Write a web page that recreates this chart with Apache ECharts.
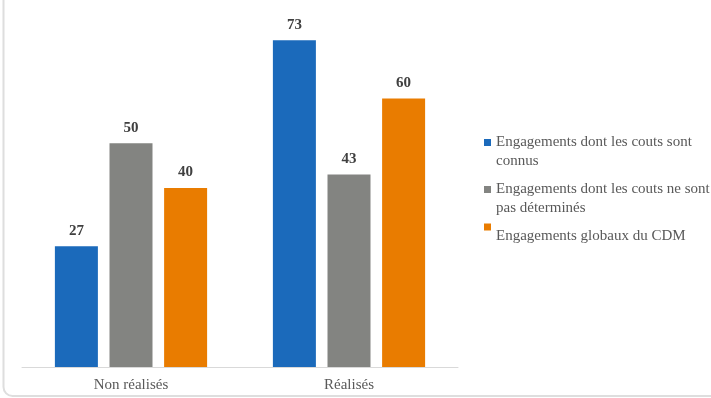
<!DOCTYPE html>
<html>
<head>
<meta charset="utf-8">
<script src="https://cdn.jsdelivr.net/npm/echarts@6/dist/echarts.min.js"></script>
<style>
  html, body { margin: 0; padding: 0; background: #fff; }
  #chart { width: 711px; height: 398px; }
</style>
</head>
<body>
<div id="chart"></div>
<script>
// données
var categories = ['Non réalisés', 'Réalisés'];
var seriesNames = [
	'Engagements dont les couts sont connus',
	'Engagements dont les couts ne sont pas déterminés',
	'Engagements globaux du CDM'
];
var connus = [27, 73];
var nonDetermines = [50, 43];
var globaux = [40, 60];
var colors = ['#1b6abb', '#838481', '#e97c00'];

var chart = echarts.init(document.getElementById('chart'));

function barSerie(name, values, color) {
	return {
		name: name,
		type: 'bar',
		data: values,
		barWidth: 43,
		barGap: '27%',
		itemStyle: { color: color },
		label: {
			show: true,
			position: 'top',
			distance: 8,
			color: '#404040',
			fontFamily: 'Liberation Serif',
			fontWeight: 'bold',
			fontSize: 15
		}
	};
}

chart.setOption({
	animation: false,
	backgroundColor: '#fff',
	textStyle: { fontFamily: 'Liberation Serif' },
	graphic: [{
		type: 'rect',
		shape: { x: 3.5, y: -20, width: 760, height: 416, r: 9 },
		style: { fill: 'none', stroke: '#dedede', lineWidth: 2 },
		silent: true
	}],
	grid: { left: 22, right: 253, top: 9, bottom: 31 },
	legend: {
		orient: 'vertical',
		left: 484,
		top: 114,
		padding: 0,
		icon: 'rect',
		itemWidth: 7,
		itemHeight: 7,
		itemGap: -10,
		// ligne vide en tête pour garder le carré sur la première ligne
		formatter: function (name) {
			return name === seriesNames[2] ? '\n' + name + '\n' : '\n' + name;
		},
		textStyle: {
			color: '#595959',
			fontFamily: 'Liberation Serif',
			fontSize: 15,
			lineHeight: 19,
			width: 222,
			overflow: 'break'
		},
		data: seriesNames
	},
	xAxis: {
		type: 'category',
		data: categories,
		axisTick: { show: false },
		axisLine: { lineStyle: { color: '#d9d9d9', width: 1 } },
		axisLabel: {
			color: '#595959',
			fontFamily: 'Liberation Serif',
			fontSize: 15,
			margin: 11
		}
	},
	yAxis: {
		type: 'value',
		min: 0,
		max: 80,
		show: false,
		splitLine: { show: false }
	},
	series: [
		barSerie(seriesNames[0], connus, colors[0]),
		barSerie(seriesNames[1], nonDetermines, colors[1]),
		barSerie(seriesNames[2], globaux, colors[2])
	]
});
</script>
</body>
</html>
